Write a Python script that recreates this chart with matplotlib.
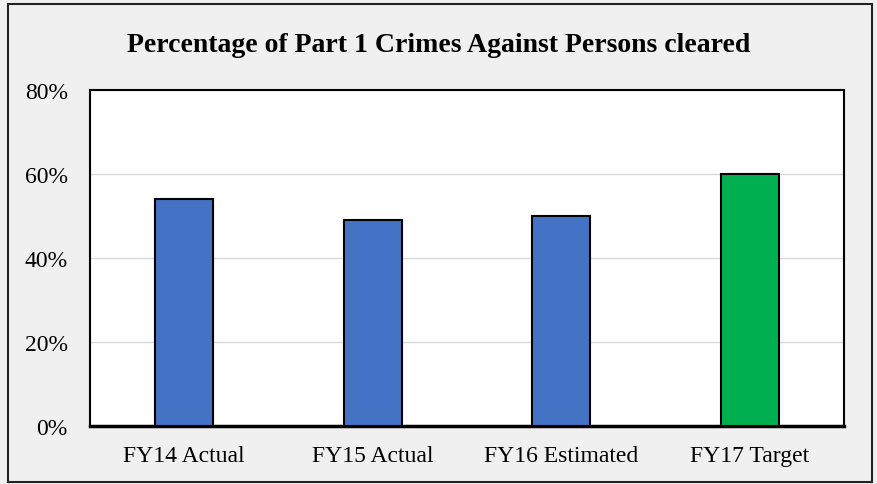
import matplotlib.pyplot as plt
from matplotlib.patches import Rectangle

categories = ["FY14 Actual", "FY15 Actual", "FY16 Estimated", "FY17 Target"]
values = [54, 49, 50, 60]
colors = ["#4472C4", "#4472C4", "#4472C4", "#00B050"]
yticks = [0, 20, 40, 60, 80]

plt.rcParams['font.family'] = ['Liberation Serif', 'DejaVu Serif']

fig = plt.figure(figsize=(8.77, 4.85), dpi=100, facecolor="#F0F0F0")
ax = fig.add_axes([0.1026, 0.1196, 0.8598, 0.6928])

x = range(len(categories))
ax.bar(x, values, width=0.31, color=colors, edgecolor="black", linewidth=1.5, zorder=3)

ax.set_xlim(-0.5, len(categories) - 0.5)
ax.set_ylim(0, 80)
ax.set_yticks(yticks)
ax.set_yticklabels(["%d%%" % v for v in yticks], fontsize=17)
ax.set_xticks(list(x))
ax.set_xticklabels(categories, fontsize=17)
ax.tick_params(length=0)
ax.tick_params(axis='x', pad=14)
ax.tick_params(axis='y', pad=16)
ax.yaxis.grid(True, color="#D9D9D9", linewidth=1, zorder=0)

for s in ax.spines.values():
    s.set_linewidth(1.5)
ax.spines['bottom'].set_linewidth(2.5)

fig.text(0.5, 0.907, "Percentage of Part 1 Crimes Against Persons cleared",
         ha="center", va="center", fontsize=20, fontweight="bold")

fig.patches.append(Rectangle((8 / 877, 2 / 485), 864 / 877, 478 / 485,
                             transform=fig.transFigure, fill=False,
                             edgecolor="#222222", linewidth=1.5))

fig.savefig("out.png", dpi=100, facecolor=fig.get_facecolor())
